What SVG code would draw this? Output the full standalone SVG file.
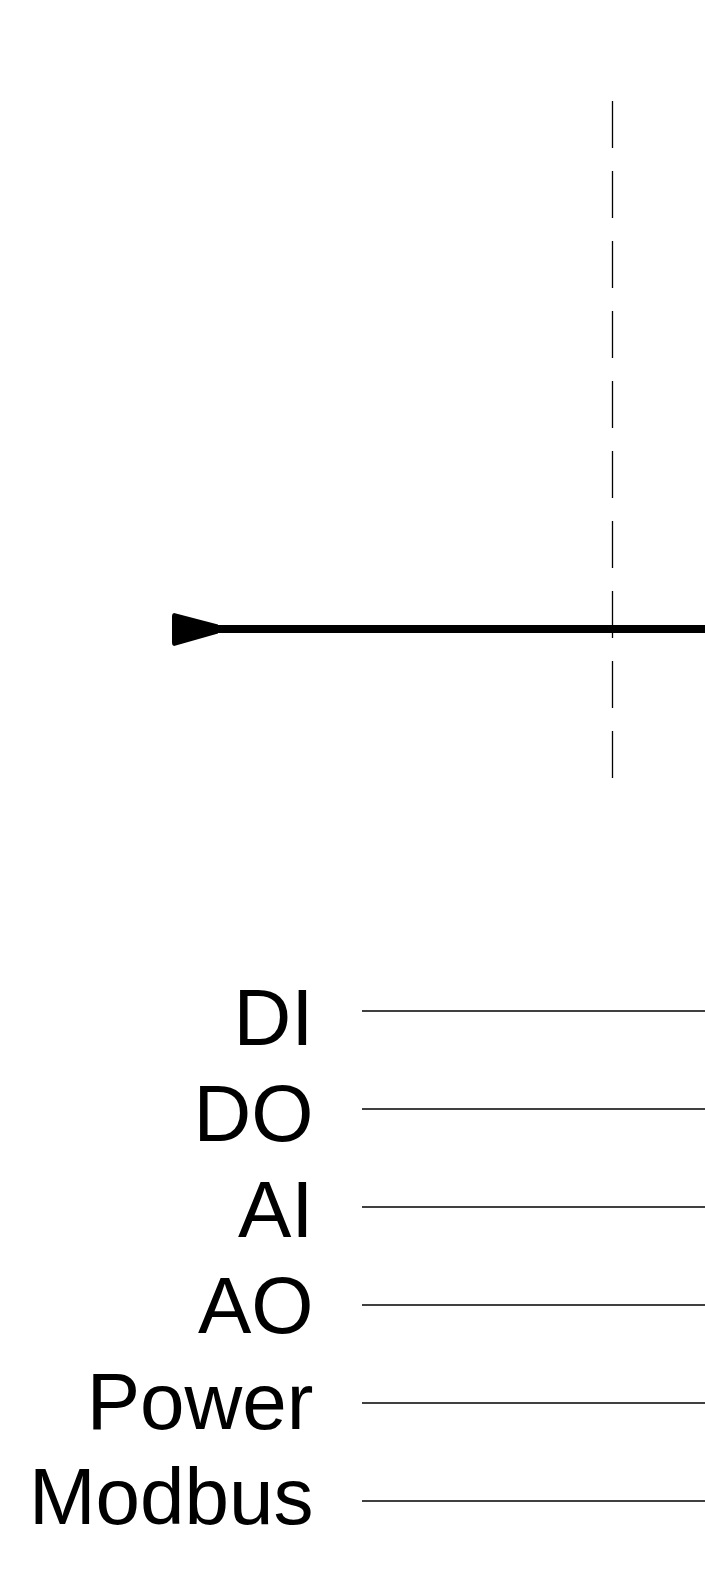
<svg xmlns="http://www.w3.org/2000/svg" width="705" height="1594" viewBox="0 0 705 1594">
<style>
.lbl{font-family:"Liberation Sans",Arial,sans-serif;font-size:80px;fill:#000;text-anchor:end}
.thin{stroke:#000;stroke-width:1.3;fill:none}
</style>
<rect width="705" height="1594" fill="#fff"/>
<g id="boundary">
<line x1="612.5" y1="101" x2="612.5" y2="778" stroke="#000" stroke-width="1.3" stroke-dasharray="47 23"/>
</g>
<g id="connectors">
<line x1="216" y1="629" x2="705" y2="629" stroke="#000" stroke-width="8"/>
<path d="M174,613 L218,624.5 L218,633.5 L174,646 Q172,645.5 172,643 L172,616 Q172,613.5 174,613 Z" fill="#000"/>
<line class="thin" x1="362" y1="1011" x2="705" y2="1011"/>
<line class="thin" x1="362" y1="1109" x2="705" y2="1109"/>
<line class="thin" x1="362" y1="1207" x2="705" y2="1207"/>
<line class="thin" x1="362" y1="1305" x2="705" y2="1305"/>
<line class="thin" x1="362" y1="1403" x2="705" y2="1403"/>
<line class="thin" x1="362" y1="1501" x2="705" y2="1501"/>
</g>
<g id="label-DI"><text class="lbl" x="313.5" y="1045">DI</text></g>
<g id="label-DO"><text class="lbl" x="313.5" y="1141">DO</text></g>
<g id="label-AI"><text class="lbl" x="313.5" y="1237">AI</text></g>
<g id="label-AO"><text class="lbl" x="313.5" y="1332.5">AO</text></g>
<g id="label-Power"><text class="lbl" x="313.5" y="1428.5">Power</text></g>
<g id="label-Modbus"><text class="lbl" x="313.5" y="1524">Modbus</text></g>
</svg>
